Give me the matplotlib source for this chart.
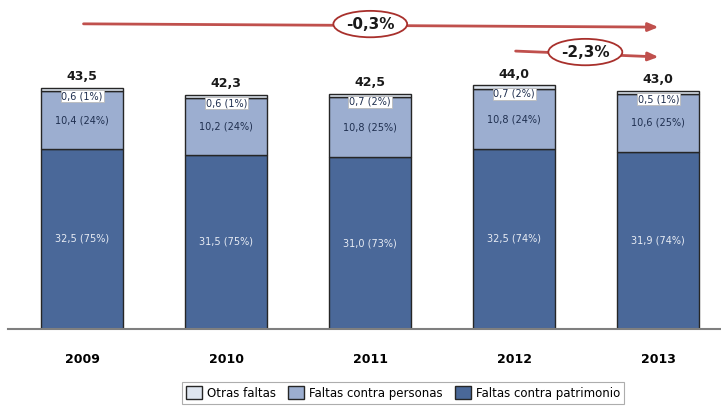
import matplotlib
matplotlib.use("Agg")
import matplotlib.pyplot as plt
import numpy as np

years = ["2009", "2010", "2011", "2012", "2013"]
patrimonio = [32.5, 31.5, 31.0, 32.5, 31.9]
personas = [10.4, 10.2, 10.8, 10.8, 10.6]
otras = [0.6, 0.6, 0.7, 0.7, 0.5]
totals = ["43,5", "42,3", "42,5", "44,0", "43,0"]
pct_patrimonio = [75, 75, 73, 74, 74]
pct_personas = [24, 24, 25, 24, 25]
pct_otras = [1, 1, 2, 2, 1]
change_labels = ["-0,3%", "-2,3%"]

c_pat = "#4a6899"
c_per = "#9caed0"
c_otr = "#dee5ef"
edge = "#262626"

fig = plt.figure(figsize=(7.21, 4.07), dpi=100)
ax = fig.add_axes([8/721, 1 - 329/407, 713/721, 329/407])
x = np.arange(len(years))
w = 0.57
pat = np.array(patrimonio); per = np.array(personas); otr = np.array(otras)
ax.bar(x, pat, w, color=c_pat, edgecolor=edge, linewidth=1.0, label="Faltas contra patrimonio", zorder=2)
ax.bar(x, per, w, bottom=pat, color=c_per, edgecolor=edge, linewidth=1.0, label="Faltas contra personas", zorder=2)
ax.bar(x, otr, w, bottom=pat + per, color=c_otr, edgecolor=edge, linewidth=1.0, label="Otras faltas", zorder=2)

def fmt(v):
    return f"{v:.1f}".replace(".", ",")

for i in range(len(years)):
    ax.text(x[i], pat[i] / 2, f"{fmt(pat[i])} ({pct_patrimonio[i]}%)", ha="center", va="center",
            fontsize=7, color="#e8ecf4")
    ax.text(x[i], pat[i] + per[i] / 2, f"{fmt(per[i])} ({pct_personas[i]}%)", ha="center", va="center",
            fontsize=7, color="#1f2f4f")
    top = pat[i] + per[i] + otr[i]
    ax.annotate(f"{fmt(otr[i])} ({pct_otras[i]}%)", (x[i], top), xytext=(0, -6), textcoords="offset points",
                ha="center", va="center", fontsize=7, color="#1f2f4f",
                bbox=dict(boxstyle="square,pad=0.1", fc="white", ec="#bbbbbb", lw=0.6), zorder=4)
    ax.annotate(totals[i], (x[i], top), xytext=(0, 8), textcoords="offset points",
                ha="center", va="center", fontsize=9, fontweight="bold", color="#1a1a1a")

ax.set_xlim(-0.515, 4.435)
ax.set_ylim(0, 59.4)
ax.set_xticks(x)
ax.set_xticklabels(years, fontsize=9, fontweight="bold")
ax.tick_params(axis="x", length=0, pad=17)
ax.set_yticks([])
for s in ["top", "right", "left"]:
    ax.spines[s].set_visible(False)
ax.spines["bottom"].set_color("#7f7f7f")
ax.spines["bottom"].set_linewidth(1.5)

arrow_col = "#c0504d"
ax.annotate("", xy=(4.02, 54.5), xytext=(-0.01, 55.1),
            arrowprops=dict(arrowstyle="-|>,head_length=0.6,head_width=0.25", color=arrow_col, lw=2), annotation_clip=False)
ax.annotate("", xy=(4.02, 49.1), xytext=(2.99, 50.2),
            arrowprops=dict(arrowstyle="-|>,head_length=0.6,head_width=0.25", color=arrow_col, lw=2), annotation_clip=False)
ax.text((370-82)/144, (329-24)/5.54, change_labels[0], ha="center", va="center", fontsize=11, fontweight="bold",
        color="#1a1a1a", bbox=dict(boxstyle="ellipse,pad=0.12", fc="white", ec="#a8302c", lw=1.3), zorder=5)
ax.text((585-82)/144, (329-52)/5.54, change_labels[1], ha="center", va="center", fontsize=11, fontweight="bold",
        color="#1a1a1a", bbox=dict(boxstyle="ellipse,pad=0.12", fc="white", ec="#a8302c", lw=1.3), zorder=5)

h, l = ax.get_legend_handles_labels()
leg = fig.legend(h[::-1], l[::-1], loc="center", bbox_to_anchor=(403/721, 1 - 393/407), ncol=3,
                 fontsize=8.5, frameon=True, fancybox=False, edgecolor="#999999",
                 handlelength=1.4, handleheight=1.2, handletextpad=0.4, columnspacing=1.0,
                 borderpad=0.35)
leg.get_frame().set_linewidth(0.8)

fig.savefig("out.png", dpi=100)
